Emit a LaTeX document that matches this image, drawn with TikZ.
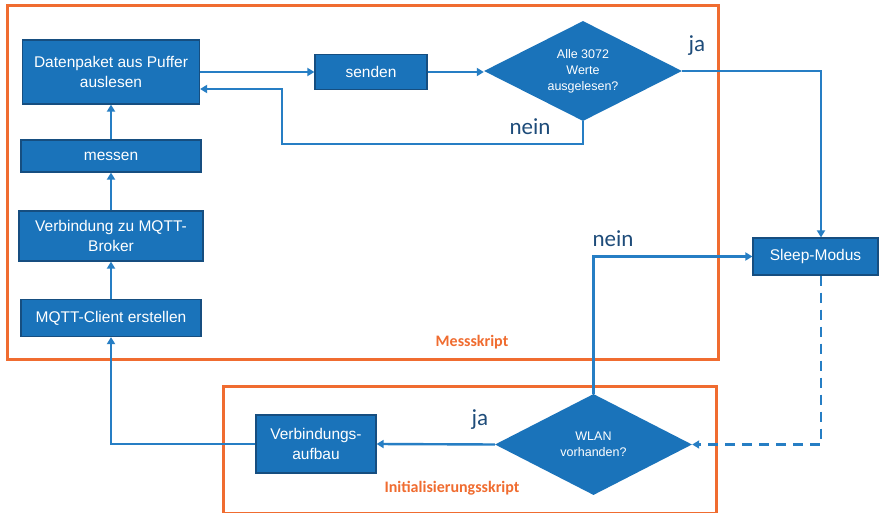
\documentclass[tikz,border=0pt]{standalone}
\usepackage{fontspec}
\setmainfont{Liberation Sans}
\newfontfamily\calib{Carlito}
\usetikzlibrary{shapes.geometric,arrows.meta,calc}
\definecolor{boxfill}{RGB}{26,115,186}
\definecolor{boxdraw}{RGB}{22,78,128}
\definecolor{linec}{RGB}{38,126,196}
\definecolor{orng}{RGB}{240,108,48}
\definecolor{lbl}{RGB}{30,76,122}
\begin{document}
\begin{tikzpicture}[x=1pt,y=-1pt,
  box/.style={rectangle,fill=boxfill,draw=boxdraw,line width=1.2pt,text=white,align=center,font=\fontsize{15.5}{19.5}\selectfont,inner sep=2pt},
  dia/.style={diamond,fill=boxfill,draw=none,text=white,align=center,font=\fontsize{12.5}{16}\selectfont,inner sep=0pt,aspect=2},
  conn/.style={draw=linec,line width=2.4pt,-{Triangle[width=8pt,length=7pt]}},
  frame/.style={draw=orng,line width=3pt},
  yn/.style={text=lbl,font=\calib\fontsize{23}{25}\selectfont},
  scr/.style={text=orng,font=\calib\bfseries\fontsize{16}{18}\selectfont}]
\useasboundingbox (0,0) rectangle (881,513);
\fill[white] (0,0) rectangle (881,513);
% frames
\draw[frame] (7,6) rectangle (718,359);
\draw[frame] (223,386) rectangle (716,513);
\node[scr] (mlab) at (472,342) {Messskript};
\node[scr] (ilab) at (452,488) {Initialisierungsskript};
% boxes
\node[box,minimum width=177pt,minimum height=64pt] (dp) at (111,72) {Datenpaket aus Puffer\\auslesen};
\node[box,minimum width=112pt,minimum height=35pt] (send) at (371,72) {senden};
\node[box,minimum width=180pt,minimum height=32pt] (mess) at (111,156) {messen};
\node[box,minimum width=184pt,minimum height=50pt] (verb) at (111,236) {Verbindung zu MQTT-\\Broker};
\node[box,minimum width=180pt,minimum height=37pt] (cli) at (111,318) {MQTT-Client erstellen};
\node[box,minimum width=120pt,minimum height=58pt] (vba) at (316,444) {Verbindungs-\\aufbau};
\node[box,minimum width=125pt,minimum height=37pt] (sleep) at (815.5,256.5) {Sleep-Modus};
\node[dia,minimum width=198pt,minimum height=100pt] (d1) at (583,71) {Alle 3072\\Werte\\ausgelesen?};
\node[dia,minimum width=197pt,minimum height=101pt] (d2) at (593.5,444.5) {WLAN\\vorhanden?};
% labels
\node[yn] (n1) at (530,127) {nein};
\node[yn] (j1) at (697,46) {ja};
\node[yn] (n2) at (613,239) {nein};
\node[yn] (j2) at (480,420) {ja};
% coordinates
\coordinate (c1) at (282,144);
\coordinate (c2) at (282,89);
\coordinate (sn) at ($(sleep.north)+(5.5,0)$);
\coordinate (ss) at ($(sleep.south)+(5.5,0)$);
% connectors
\draw[conn] (dp.east) -- (send.west);
\draw[conn] (send.east) -- (send.east -| d1.west);
\draw[conn] (d1.south) |- (c1) -- (c2) -- (c2 -| dp.east);
\draw[conn] (d1.east) -| (sn);
\draw[conn] (d2.north) |- (sleep.west);
\draw[conn,dash pattern=on 10pt off 7pt] (ss) |- (d2.east);
\draw[conn] (d2.west) -- (vba.east);
\draw[conn] (vba.west) -| (cli.south);
\draw[conn] (cli.north) -- (verb.south);
\draw[conn] (verb.north) -- (mess.south);
\draw[conn] (mess.north) -- (dp.south);
\end{tikzpicture}
\end{document}
